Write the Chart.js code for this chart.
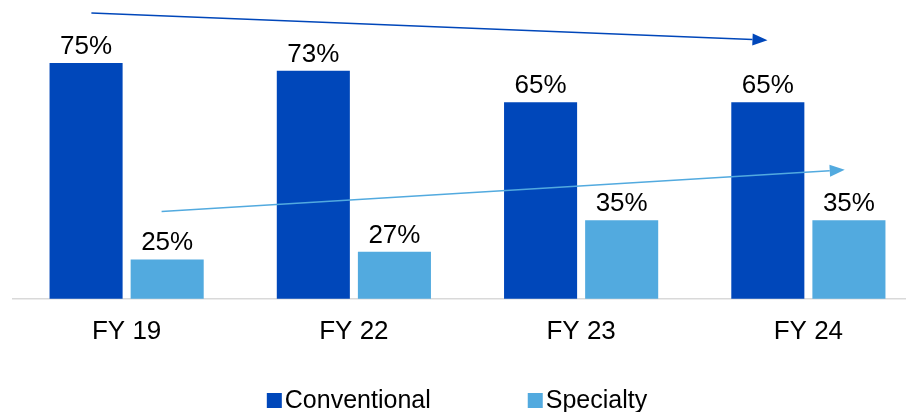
<!DOCTYPE html>
<html>
<head>
<meta charset="utf-8">
<script src="https://cdn.jsdelivr.net/npm/chart.js@4.4.1/dist/chart.umd.min.js"></script>
<style>
  html, body { margin: 0; padding: 0; background: #fff; overflow: hidden; }
  #wrap { width: 922px; height: 412px; }
</style>
</head>
<body>
<div id="wrap"><canvas id="grafico"></canvas></div>
<script>
const anos = ['FY 19', 'FY 22', 'FY 23', 'FY 24'];
const convencional = [75, 73, 65, 65];
const especial = [25, 27, 35, 35];

// trend arrows, in chart units: [category index, value]
const setaConvInicio = [-0.155, 87.7];
const setaConvFim = [2.82, 80.8];
const setaEspInicio = [0.154, 37.2];
const setaEspFim = [3.16, 47.8];

const AZUL = '#0047BA';
const AZUL_CLARO = '#52AADF';
const FONTE = '"Liberation Sans", Arial, sans-serif';
const LARGURA_VISIVEL = 906; // the window; the canvas runs a bit past it on the right

// value labels above the bars
const rotulos = {
  id: 'rotulos',
  afterDatasetsDraw(chart) {
    const ctx = chart.ctx;
    ctx.save();
    ctx.font = '26px ' + FONTE;
    ctx.fillStyle = '#000';
    ctx.textAlign = 'center';
    ctx.textBaseline = 'alphabetic';
    chart.data.datasets.forEach((ds, i) => {
      chart.getDatasetMeta(i).data.forEach((bar, j) => {
        ctx.fillText(ds.data[j] + '%', bar.x, bar.y - 9);
      });
    });
    ctx.restore();
  }
};

function desenhaSeta(chart, ini, fim, cor) {
  const ctx = chart.ctx;
  const x = chart.scales.x, y = chart.scales.y;
  const x1 = x.getPixelForValue(ini[0]), y1 = y.getPixelForValue(ini[1]);
  const x2 = x.getPixelForValue(fim[0]), y2 = y.getPixelForValue(fim[1]);
  const ang = Math.atan2(y2 - y1, x2 - x1);
  const comp = 15, larg = 6;
  ctx.save();
  ctx.strokeStyle = cor;
  ctx.fillStyle = cor;
  ctx.lineWidth = 1.5;
  ctx.beginPath();
  ctx.moveTo(x1, y1);
  ctx.lineTo(x2 - comp * Math.cos(ang), y2 - comp * Math.sin(ang));
  ctx.stroke();
  ctx.beginPath();
  ctx.moveTo(x2, y2);
  ctx.lineTo(x2 - comp * Math.cos(ang) + larg * Math.sin(ang), y2 - comp * Math.sin(ang) - larg * Math.cos(ang));
  ctx.lineTo(x2 - comp * Math.cos(ang) - larg * Math.sin(ang), y2 - comp * Math.sin(ang) + larg * Math.cos(ang));
  ctx.closePath();
  ctx.fill();
  ctx.restore();
}

const setas = {
  id: 'setas',
  afterDatasetsDraw(chart) {
    desenhaSeta(chart, setaConvInicio, setaConvFim, AZUL);
    desenhaSeta(chart, setaEspInicio, setaEspFim, AZUL_CLARO);
  }
};

// legend row at the bottom
const legenda = {
  id: 'legenda',
  afterDraw(chart) {
    const ctx = chart.ctx;
    ctx.save();
    ctx.font = '25px ' + FONTE;
    ctx.textBaseline = 'alphabetic';
    const caixa = 15, folga = 3, espaco = 97;
    const itens = chart.data.datasets.map(ds => ({
      texto: ds.label, cor: ds.backgroundColor,
      w: caixa + folga + ctx.measureText(ds.label).width
    }));
    const total = itens.reduce((s, it) => s + it.w, 0) + espaco * (itens.length - 1);
    let x = LARGURA_VISIVEL / 2 + 4 - total / 2;
    const base = 408;
    itens.forEach(it => {
      ctx.fillStyle = it.cor;
      ctx.fillRect(x, base - caixa, caixa, caixa);
      ctx.fillStyle = '#000';
      ctx.fillText(it.texto, x + caixa + folga, base);
      x += it.w + espaco;
    });
    ctx.restore();
  }
};

new Chart(document.getElementById('grafico'), {
  type: 'bar',
  data: {
    labels: anos,
    datasets: [
      { label: 'Conventional', data: convencional, backgroundColor: AZUL },
      { label: 'Specialty', data: especial, backgroundColor: AZUL_CLARO }
    ]
  },
  options: {
    responsive: true,
    maintainAspectRatio: false,
    animation: false,
    categoryPercentage: 0.7137,
    barPercentage: 0.901,
    layout: { padding: { left: 13, right: 0, top: 4, bottom: 56 } },
    plugins: {
      legend: { display: false },
      tooltip: { enabled: false }
    },
    scales: {
      x: {
        grid: { display: false },
        border: { display: true, color: '#D9D9D9', width: 1.5 },
        ticks: { color: '#000', padding: 9, font: { family: FONTE, size: 26 } }
      },
      y: {
        display: false,
        min: 15,
        max: 90
      }
    }
  },
  plugins: [setas, rotulos, legenda]
});
</script>
</body>
</html>
